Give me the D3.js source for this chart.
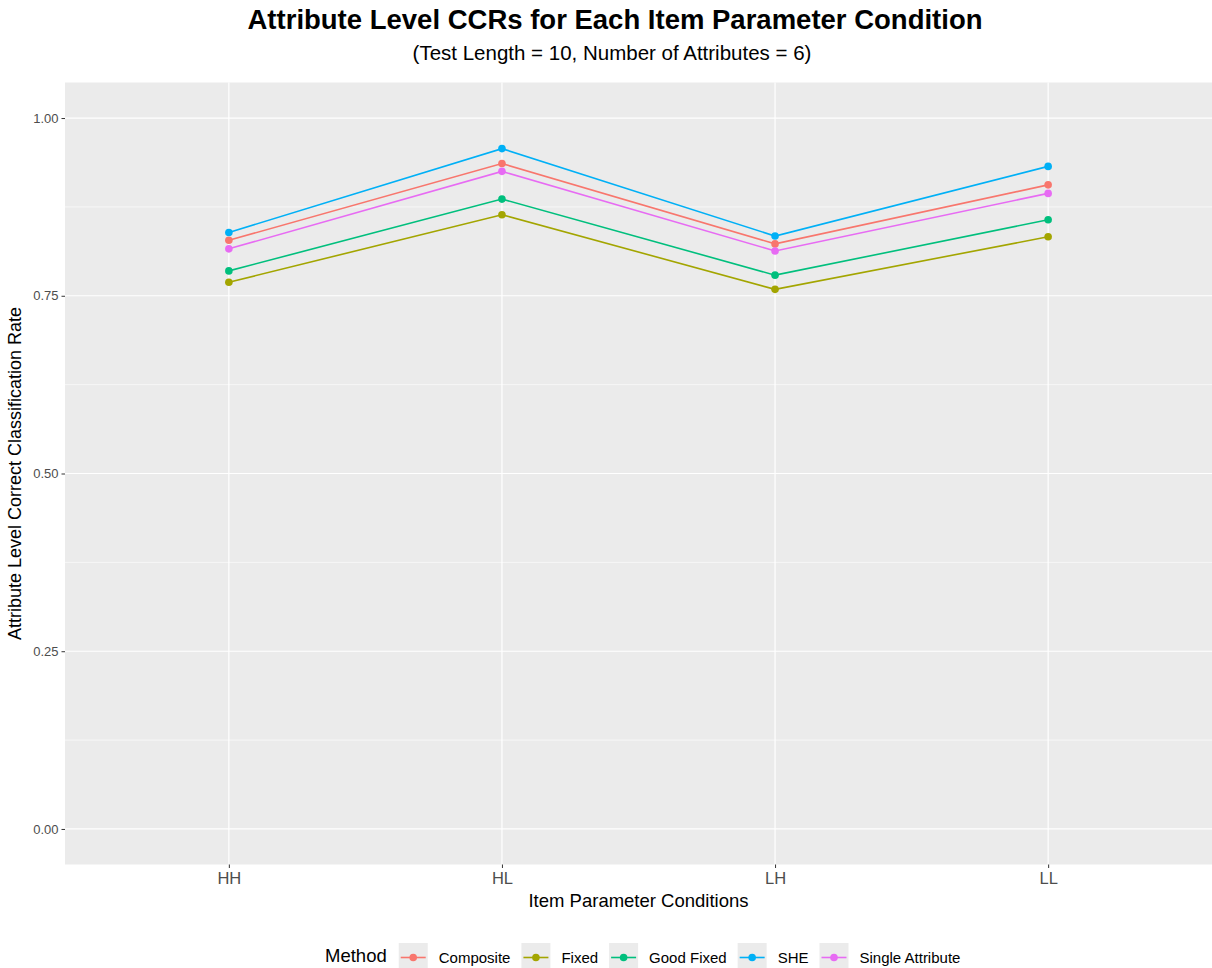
<!DOCTYPE html>
<html>
<head>
<meta charset="utf-8">
<script src="https://cdn.jsdelivr.net/npm/d3@7"></script>
<style>
  body { margin: 0; background: #fff; }
  svg { font-family: "Liberation Sans", Arial, sans-serif; }
</style>
</head>
<body>
<svg id="chart" width="1212" height="968"></svg>
<script>
// conditions on the x axis
const conditions = ["HH", "HL", "LH", "LL"];
const methods = ["Composite", "Fixed", "Good Fixed", "SHE", "Single Attribute"];
const colors = ["#F8766D", "#A3A500", "#00BF7D", "#00B0F6", "#E76BF3"];

// CCR values per method, in the order of conditions
const composite = [0.828, 0.936, 0.823, 0.906];
const fixed = [0.769, 0.864, 0.759, 0.833];
const goodFixed = [0.785, 0.886, 0.779, 0.857];
const she = [0.839, 0.957, 0.834, 0.932];
const singleAttr = [0.816, 0.925, 0.813, 0.894];

const yTicks = [0, 0.25, 0.5, 0.75, 1];
const yMinor = [0.125, 0.375, 0.625, 0.875];

const series = [composite, fixed, goodFixed, she, singleAttr].map((vals, i) => ({
  name: methods[i],
  color: colors[i],
  points: vals.map((v, j) => ({ cond: conditions[j], value: v }))
}));

const svg = d3.select("#chart");
const margin = { top: 82.5, right: 0, bottom: 103.5, left: 65 };
const width = 1212 - margin.left - margin.right;
const height = 968 - margin.top - margin.bottom;

const x = d3.scalePoint().domain(conditions).range([0, width]).padding(0.6);
const y = d3.scaleLinear().domain([-0.05, 1.05]).range([height, 0]);

const g = svg.append("g").attr("transform", `translate(${margin.left},${margin.top})`);

// panel
g.append("rect").attr("width", width).attr("height", height).attr("fill", "#EBEBEB");

g.selectAll(".minor").data(yMinor).join("line")
  .attr("x1", 0).attr("x2", width)
  .attr("y1", d => y(d)).attr("y2", d => y(d))
  .attr("stroke", "#fff").attr("stroke-width", 0.6);

g.selectAll(".major").data(yTicks).join("line")
  .attr("x1", 0).attr("x2", width)
  .attr("y1", d => y(d)).attr("y2", d => y(d))
  .attr("stroke", "#fff").attr("stroke-width", 1.2);

g.selectAll(".vmajor").data(conditions).join("line")
  .attr("x1", d => x(d)).attr("x2", d => x(d))
  .attr("y1", 0).attr("y2", height)
  .attr("stroke", "#fff").attr("stroke-width", 1.2);

// axes
const yAxis = g.append("g").call(d3.axisLeft(y).tickValues(yTicks).tickFormat(d3.format(".2f")).tickSize(3.5).tickPadding(3));
yAxis.select(".domain").remove();
yAxis.selectAll("line").attr("stroke", "#333");
yAxis.selectAll("text").attr("fill", "#4D4D4D").style("font-size", "13px");

const xAxis = g.append("g").attr("transform", `translate(0,${height})`)
  .call(d3.axisBottom(x).tickSize(3.5).tickPadding(4));
xAxis.select(".domain").remove();
xAxis.selectAll("line").attr("stroke", "#333");
xAxis.selectAll("text").attr("fill", "#4D4D4D").style("font-size", "16.5px");

// lines and points
const line = d3.line().x(d => x(d.cond)).y(d => y(d.value));
series.forEach(s => {
  g.append("path").datum(s.points)
    .attr("fill", "none").attr("stroke", s.color).attr("stroke-width", 1.6)
    .attr("d", line);
  g.selectAll(null).data(s.points).join("circle")
    .attr("cx", d => x(d.cond)).attr("cy", d => y(d.value))
    .attr("r", 3.8).attr("fill", s.color);
});

// titles
svg.append("text").attr("x", 615).attr("y", 29).attr("text-anchor", "middle")
  .style("font-size", "27.5px").style("font-weight", "bold").attr("fill", "#000")
  .text("Attribute Level CCRs for Each Item Parameter Condition");
svg.append("text").attr("x", 612).attr("y", 60).attr("text-anchor", "middle")
  .style("font-size", "20.5px").attr("fill", "#000")
  .text("(Test Length = 10, Number of Attributes = 6)");

svg.append("text").attr("x", margin.left + width / 2).attr("y", 907).attr("text-anchor", "middle")
  .style("font-size", "18.5px").attr("fill", "#000").text("Item Parameter Conditions");
svg.append("text")
  .attr("transform", `translate(21,${margin.top + height / 2}) rotate(-90)`)
  .attr("text-anchor", "middle").style("font-size", "18px").attr("fill", "#000")
  .text("Attribute Level Correct Classification Rate");

// legend
const legend = svg.append("g").attr("transform", "translate(0,955)");
const title = legend.append("text").attr("x", 325).attr("y", 7)
  .style("font-size", "18.5px").attr("fill", "#000").text("Method");
let cx = 325 + title.node().getComputedTextLength() + 12;
series.forEach(s => {
  legend.append("rect").attr("x", cx).attr("y", -12).attr("width", 29).attr("height", 29).attr("fill", "#EBEBEB");
  legend.append("line").attr("x1", cx + 2).attr("x2", cx + 27).attr("y1", 2.5).attr("y2", 2.5)
    .attr("stroke", s.color).attr("stroke-width", 1.6);
  legend.append("circle").attr("cx", cx + 14.5).attr("cy", 2.5).attr("r", 3.8).attr("fill", s.color);
  const t = legend.append("text").attr("x", cx + 40).attr("y", 7.5)
    .style("font-size", "15px").attr("fill", "#000").text(s.name);
  cx += 40 + t.node().getComputedTextLength() + 11;
});
</script>
</body>
</html>
